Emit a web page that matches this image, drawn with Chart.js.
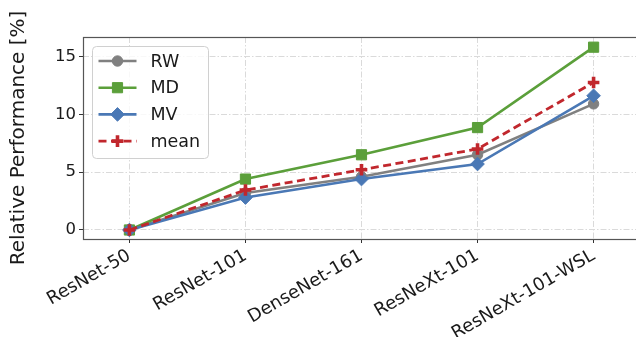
<!DOCTYPE html>
<html><head><meta charset="utf-8">
<script src="https://cdn.jsdelivr.net/npm/chart.js@4.4.0/dist/chart.umd.min.js"></script>
<style>html,body{margin:0;padding:0;overflow:hidden;background:#fff;width:636px;height:337px}canvas{display:block}</style>
</head><body><canvas id="c" width="640" height="337" style="width:640px;height:337px"></canvas>
<script>
const categories = ['ResNet-50','ResNet-101','DenseNet-161','ResNeXt-101','ResNeXt-101-WSL'];
const rwValues   = [0, 3.2, 4.6, 6.5, 10.9];
const mdValues   = [0, 4.4, 6.5, 8.85, 15.8];
const mvValues   = [0, 2.8, 4.4, 5.7, 11.6];
const meanValues = [0, 3.45, 5.2, 7.0, 12.75];
const yTickValues = [0, 5, 10, 15];
const yTitle = 'Relative Performance [%]';

const FONT = '"DejaVu Sans", sans-serif';
const toPts = arr => arr.map((v,i)=>({x:i,y:v}));

const frame = {
  id:'frame',
  afterDatasetsDraw(chart){
    const {ctx, chartArea:a} = chart;
    ctx.save(); ctx.strokeStyle='#555'; ctx.lineWidth=1.2; ctx.setLineDash([]);
    ctx.strokeRect(a.left+0.5, a.top+0.5, a.right-a.left, a.bottom-a.top);
    ctx.restore();
  }
};
const boxLegend = {
  id:'boxLegend',
  afterDraw(chart){
    const {ctx, chartArea:a} = chart;
    const x0=a.left+9.5, y0=a.top+9.5, w=116, h=112;
    ctx.save();
    ctx.beginPath(); ctx.roundRect(x0,y0,w,h,4);
    ctx.fillStyle='rgba(255,255,255,0.8)'; ctx.fill();
    ctx.strokeStyle='#d0d0d0'; ctx.lineWidth=1; ctx.stroke();
    chart.data.datasets.forEach((ds,i)=>{
      const y = y0 + 14.5 + i*26.7;
      ctx.strokeStyle=ds.borderColor; ctx.lineWidth=ds.borderWidth; ctx.setLineDash(ds.borderDash||[]);
      ctx.beginPath(); ctx.moveTo(x0+6,y); ctx.lineTo(x0+44,y); ctx.stroke(); ctx.setLineDash([]);
      ctx.fillStyle=ds.borderColor; ctx.strokeStyle=ds.borderColor; ctx.lineWidth=ds.pointBorderWidth;
      Chart.helpers.drawPoint(ctx,{pointStyle:ds.pointStyle, radius:ds.pointRadius, borderWidth:ds.pointBorderWidth, rotation:0}, x0+25, y);
      ctx.fillStyle='#1a1a1a'; ctx.font='17.5px '+FONT; ctx.textBaseline='middle'; ctx.textAlign='left';
      ctx.fillText(ds.label, x0+58, y+1);
    });
    ctx.restore();
  }
};

const mk = (label, data, color, style, radius, opts={}) => Object.assign({
  label, data: toPts(data), borderColor: color, backgroundColor: color,
  pointBackgroundColor: color, pointBorderColor: color, pointStyle: style,
  pointRadius: radius, pointHoverRadius: radius, pointBorderWidth: 1, borderWidth: 2.6, tension: 0, clip: false
}, opts);

new Chart(document.getElementById('c'), {
  type:'line',
  data:{ datasets:[
    mk('RW', rwValues, '#808080', 'circle', 5.2, {order:4}),
    mk('MD', mdValues, '#5b9f3a', 'rect', 7.2, {order:3}),
    mk('MV', mvValues, '#4a78b5', 'rectRot', 6.8, {order:2}),
    mk('mean', meanValues, '#c1272d', 'cross', 5.8, {order:1, borderDash:[8,4.5], pointBorderWidth:3.6, borderWidth:2.8})
  ]},
  plugins:[frame, boxLegend],
  options:{
    responsive:false, animation:false, devicePixelRatio:1,
    layout:{autoPadding:false, padding:{top:37,right:0,left:0,bottom:0}},
    plugins:{legend:{display:false}, tooltip:{enabled:false}},
    scales:{
      x:{ type:'linear', min:-0.4, max:4.4,
        afterBuildTicks(s){ s.ticks = categories.map((c,i)=>({value:i})); },
        afterFit(s){ s.height = 98; s.paddingRight = 0; s.paddingLeft = 0; },
        ticks:{ callback:(v)=>categories[Math.round(v)], minRotation:30, maxRotation:30, autoSkip:false,
          color:'#1a1a1a', font:{family:FONT,size:18}, padding:2 },
        grid:{ color:'#dadada', lineWidth:1, tickColor:'#333', tickLength:4, tickBorderDash:[] },
        border:{ display:false, dash:[6,2,1.5,2] }
      },
      y:{ min:-0.78, max:16.68,
        afterBuildTicks(s){ s.ticks = yTickValues.map(v=>({value:v})); },
        afterFit(s){ s.width = 83; s.paddingTop = 0; s.paddingBottom = 0; },
        ticks:{ color:'#1a1a1a', font:{family:FONT,size:16.5}, padding:3 },
        grid:{ color:'#dadada', lineWidth:1, tickColor:'#333', tickLength:4, tickBorderDash:[] },
        border:{ display:false, dash:[6,2,1.5,2] },
        title:{ display:true, text:yTitle, color:'#1a1a1a', font:{family:FONT,size:20}, padding:{top:7,bottom:0} }
      }
    }
  }
});
</script></body></html>
